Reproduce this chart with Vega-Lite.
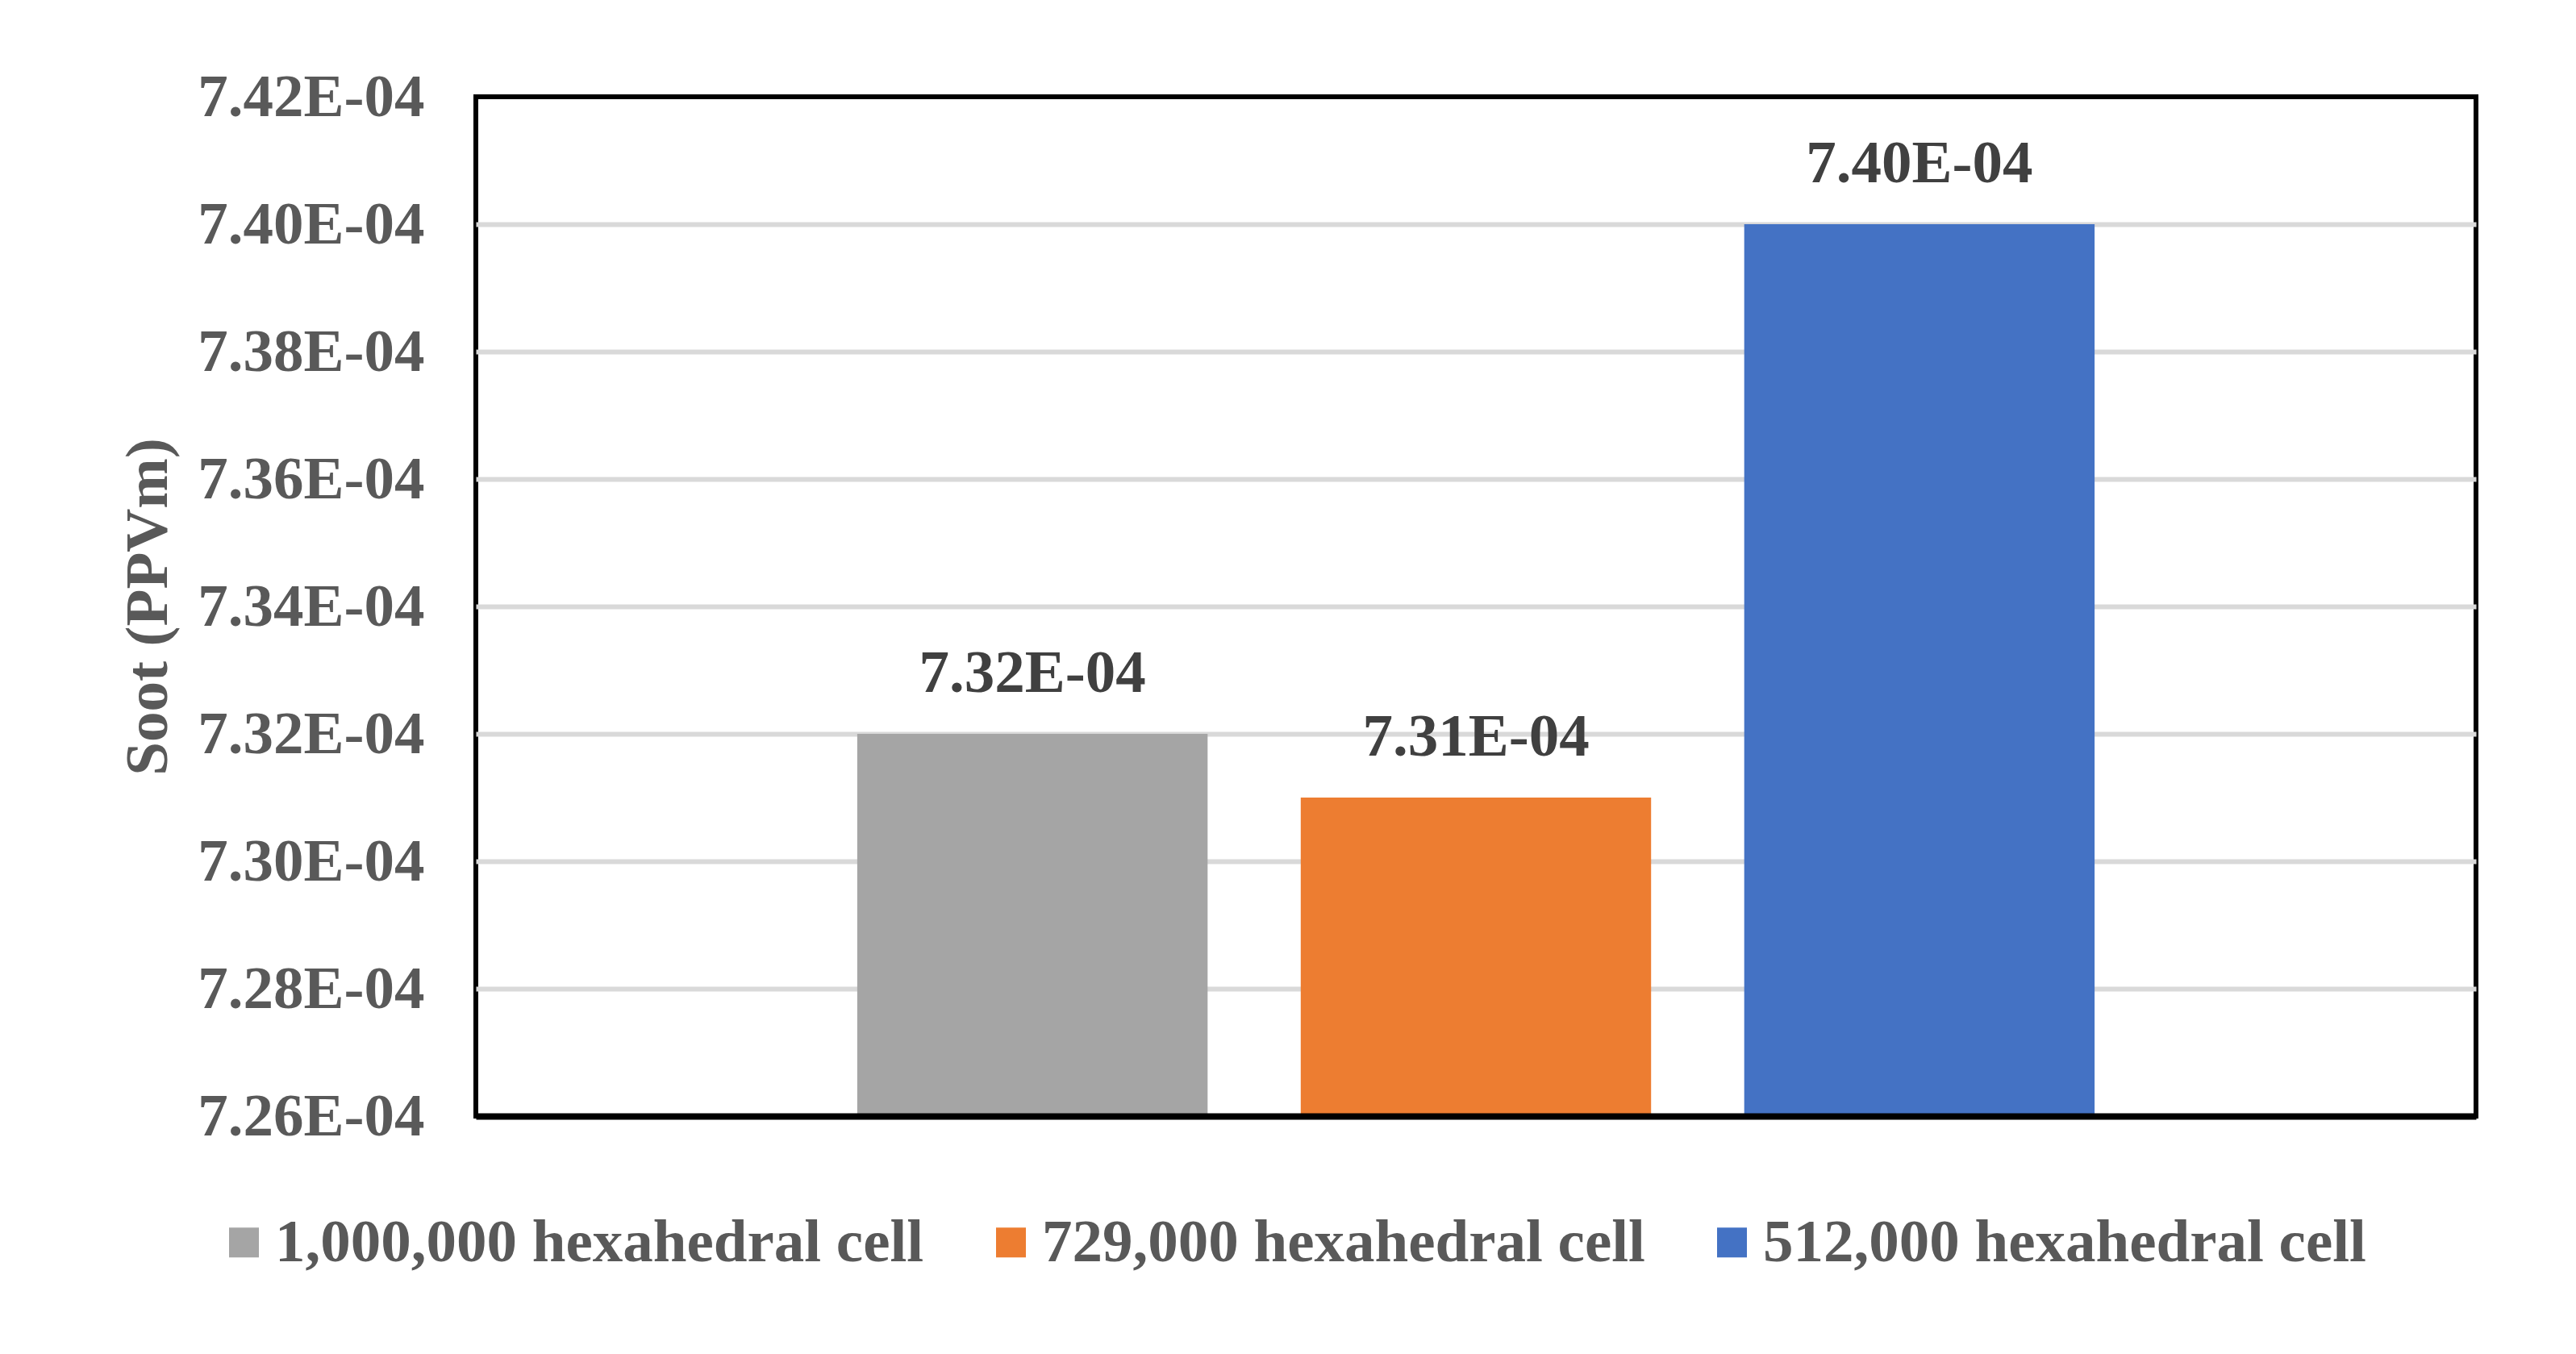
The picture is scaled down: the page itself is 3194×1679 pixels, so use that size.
{
  "$schema": "https://vega.github.io/schema/vega-lite/v6.json",
  "description": "Soot (PPVm) for three mesh sizes",
  "autosize": "none",
  "width": 2480,
  "height": 1264,
  "padding": {"left": 590, "top": 120, "right": 124, "bottom": 295},
  "background": "white",
  "config": {
    "font": "Liberation Serif",
    "view": {"stroke": "black", "strokeWidth": 6}
  },
  "data": {
    "values": [
      {"mesh": "1,000,000 hexahedral cell", "soot": 0.000732},
      {"mesh": "729,000 hexahedral cell", "soot": 0.000731},
      {"mesh": "512,000 hexahedral cell", "soot": 0.00074}
    ]
  },
  "encoding": {
    "x": {
      "field": "mesh",
      "type": "nominal",
      "sort": null,
      "scale": {"paddingInner": 0.21, "paddingOuter": 0.86},
      "axis": {
        "title": null,
        "labels": false,
        "ticks": false,
        "domain": true,
        "domainColor": "black",
        "domainWidth": 8,
        "zindex": 1
      }
    },
    "y": {
      "field": "soot",
      "type": "quantitative",
      "title": "Soot (PPVm)",
      "scale": {"domain": [0.000726, 0.000742], "zero": false, "nice": false, "clamp": true},
      "axis": {
        "values": [0.000726, 0.000728, 0.00073, 0.000732, 0.000734, 0.000736, 0.000738, 0.00074, 0.000742],
        "labelExpr": "format(datum.value * 10000, '.2f') + 'E-04'",
        "labelFont": "Liberation Serif",
        "labelFontSize": 75,
        "labelFontWeight": "bold",
        "labelColor": "#595959",
        "labelPadding": 64,
        "labelLimit": 1000,
        "ticks": false,
        "domain": false,
        "grid": true,
        "gridColor": "#D9D9D9",
        "gridWidth": 6,
        "gridOpacity": {
          "condition": {"test": "datum.value < 0.0007265 || datum.value > 0.0007415", "value": 0},
          "value": 1
        },
        "titleFont": "Liberation Serif",
        "titleFontSize": 75,
        "titleFontWeight": "bold",
        "titleColor": "#595959",
        "titlePadding": 168
      }
    }
  },
  "layer": [
    {
      "mark": {"type": "bar"},
      "encoding": {
        "color": {
          "field": "mesh",
          "type": "nominal",
          "sort": null,
          "scale": {
            "domain": ["1,000,000 hexahedral cell", "729,000 hexahedral cell", "512,000 hexahedral cell"],
            "range": ["#A5A5A5", "#ED7D31", "#4472C4"]
          },
          "legend": {
            "title": null,
            "orient": "none",
            "direction": "horizontal",
            "legendX": -325,
            "legendY": 1383,
            "symbolType": "square",
            "symbolSize": 1369,
            "symbolStrokeWidth": 0,
            "labelFont": "Liberation Serif",
            "labelFontSize": 75,
            "labelFontWeight": "bold",
            "labelColor": "#595959",
            "labelOffset": 1,
            "columnPadding": 70,
            "labelLimit": 2000
          }
        }
      }
    },
    {
      "mark": {
        "type": "text",
        "baseline": "alphabetic",
        "dy": -52,
        "font": "Liberation Serif",
        "fontSize": 75,
        "fontWeight": "bold",
        "color": "#404040",
        "text": {"expr": "format(datum.soot * 10000, '.2f') + 'E-04'"}
      }
    }
  ]
}
